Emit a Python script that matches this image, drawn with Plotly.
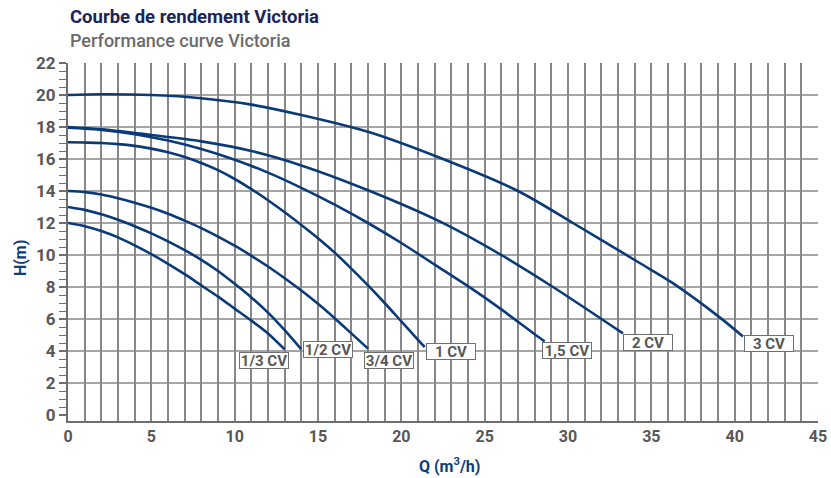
import plotly.graph_objects as go

# ---- data ----
q_3cv = [0, 2, 5, 8, 11, 14, 18, 22, 27, 30.3, 34.3, 36.2, 39.1, 40.5]
h_3cv = [20, 20.05, 20.0, 19.8, 19.4, 18.75, 17.7, 16.2, 14.0, 12.0, 9.5, 8.3, 6.1, 4.9]

q_2cv = [0, 2, 5, 8, 11, 14, 18, 22.3, 26, 29.1, 33.3]
h_2cv = [18, 17.85, 17.5, 17.1, 16.5, 15.6, 14.05, 12.1, 10.0, 8.0, 5.1]

q_15cv = [0, 2, 4, 6, 8, 10, 12, 14, 16, 18, 20, 22, 24, 26, 28, 28.6]
h_15cv = [17.95, 17.82, 17.55, 17.15, 16.62, 15.95, 15.15, 14.2, 13.15, 12.0, 10.75, 9.4, 8.05, 6.6, 5.05, 4.6]

q_1cv = [0, 1, 2, 3, 4, 5, 6, 7, 8, 9, 10, 11, 12, 13, 14, 15, 16, 17, 18, 19, 20, 21, 21.4]
h_1cv = [17.05, 17.03, 17.0, 16.93, 16.82, 16.65, 16.42, 16.12, 15.75, 15.3, 14.75, 14.12,
         13.42, 12.67, 11.88, 11.05, 10.15, 9.15, 8.1, 7.0, 5.85, 4.7, 4.25]

q_34cv = [0, 1, 2, 3, 4, 5, 6, 7, 8, 9, 10, 11, 12, 13, 14, 15, 16, 17, 18]
h_34cv = [14, 13.93, 13.78, 13.55, 13.27, 12.95, 12.58, 12.15, 11.68, 11.15, 10.58, 9.95,
          9.28, 8.55, 7.78, 6.95, 6.05, 5.1, 4.15]

q_12cv = [0, 1, 2, 3, 4, 5, 6, 7, 8, 9, 10, 11, 12, 13, 14]
h_12cv = [13, 12.82, 12.55, 12.2, 11.8, 11.35, 10.85, 10.3, 9.7, 9.0, 8.2, 7.35, 6.4, 5.3, 4.1]

q_13cv = [0, 1, 2, 3, 4, 5, 6, 7, 8, 9, 10, 11, 12, 13]
h_13cv = [12, 11.8, 11.5, 11.1, 10.6, 10.05, 9.45, 8.8, 8.1, 7.4, 6.65, 5.9, 5.1, 4.1]

series_names = ["3 CV", "2 CV", "1,5 CV", "1 CV", "3/4 CV", "1/2 CV", "1/3 CV"]
series_q = [q_3cv, q_2cv, q_15cv, q_1cv, q_34cv, q_12cv, q_13cv]
series_h = [h_3cv, h_2cv, h_15cv, h_1cv, h_34cv, h_12cv, h_13cv]

# label anchor positions (data coords)
label_q = [42.08, 34.82, 29.95, 22.98, 19.28, 15.58, 11.77]
label_h = [4.45, 4.52, 4.03, 4.0, 3.4, 4.1, 3.4]

x_ticks = [0, 5, 10, 15, 20, 25, 30, 35, 40, 45]
y_ticks = [0, 2, 4, 6, 8, 10, 12, 14, 16, 18, 20, 22]
h_grid = [2, 4, 6, 8, 10, 12, 14, 16, 18, 20]

title_text = "Courbe de rendement Victoria"
subtitle_text = "Performance curve Victoria"

# ---- styles ----
CURVE = "#0b3a78"
GRID = "#878787"
TICKTXT = "#575757"
NARROW = "Liberation Sans Narrow, Roboto, sans-serif"

fig = go.Figure()

for name, q, h in zip(series_names, series_q, series_h):
    fig.add_trace(go.Scatter(x=q, y=h, mode="lines", name=name,
                             line=dict(color=CURVE, width=2.6, shape="spline", smoothing=0.8),
                             showlegend=False, hoverinfo="x+y+name"))

shapes = []
for yv in h_grid:
    shapes.append(dict(type="line", xref="x", yref="y", x0=0, x1=45, y0=yv, y1=yv,
                       line=dict(color=GRID, width=1.5), layer="below"))

annotations = []
for name, lq, lh in zip(series_names, label_q, label_h):
    annotations.append(dict(x=lq, y=lh, xref="x", yref="y", text=name, showarrow=False,
                            font=dict(family=NARROW, size=15, color=TICKTXT, weight="bold"),
                            bgcolor="white", bordercolor="#707070", borderwidth=1,
                            borderpad=0, width=48, height=15, xanchor="center", yanchor="middle"))

annotations += [
    dict(xref="paper", yref="paper", x=0, y=1.128, xanchor="left", yanchor="middle",
         text=title_text, showarrow=False,
         font=dict(family="Roboto, sans-serif", size=18.5, color="#1b2557", weight="bold")),
    dict(xref="paper", yref="paper", x=0, y=1.064, xanchor="left", yanchor="middle",
         text=subtitle_text, showarrow=False,
         font=dict(family="Roboto, sans-serif", size=18, color="#6b6b6b", weight=500)),
    dict(xref="paper", yref="paper", x=-0.064, y=0.455, xanchor="center", yanchor="middle",
         text="H(m)", showarrow=False, textangle=-90,
         font=dict(family="Roboto, sans-serif", size=16, color="#0d3d7d", weight="bold")),
    dict(xref="paper", yref="paper", x=0.509, y=-0.123, xanchor="center", yanchor="middle",
         text="Q (m<sup>3</sup>/h)", showarrow=False,
         font=dict(family="Roboto, sans-serif", size=16, color="#0d3d7d", weight="bold")),
]

fig.update_layout(
    width=831, height=478, autosize=False,
    margin=dict(l=68, r=13, t=63, b=57, autoexpand=False),
    paper_bgcolor="white", plot_bgcolor="white",
    shapes=shapes, annotations=annotations,
    xaxis=dict(range=[0, 45], tickvals=x_ticks, ticktext=[str(v) for v in x_ticks],
               automargin=False,
               showgrid=True, gridcolor=GRID, gridwidth=1.5,
               minor=dict(dtick=1, showgrid=True, gridcolor=GRID, gridwidth=1.5),
               showline=True, linecolor="#6e6e6e", linewidth=2, mirror=False,
               ticks="", zeroline=False,
               tickfont=dict(family="Roboto, sans-serif", size=16, color=TICKTXT, weight="bold")),
    yaxis=dict(range=[-0.375, 22], tickvals=y_ticks, ticktext=[str(v) for v in y_ticks],
               automargin=False,
               showgrid=False, zeroline=False,
               showline=True, linecolor="#6e6e6e", linewidth=2,
               ticks="outside", ticklen=7, tickwidth=1.5, tickcolor="#6e6e6e",
               minor=dict(dtick=0.5, ticks="outside", ticklen=7, tickwidth=1.2, tickcolor="#6e6e6e"),
               tickfont=dict(family=NARROW, size=17, color=TICKTXT, weight="bold")),
)

# remove the default 8px page margin so the figure fills the 831x478 window
fig.write_html("out.html", config={"displayModeBar": False},
               post_script="document.body.style.margin='0';")
